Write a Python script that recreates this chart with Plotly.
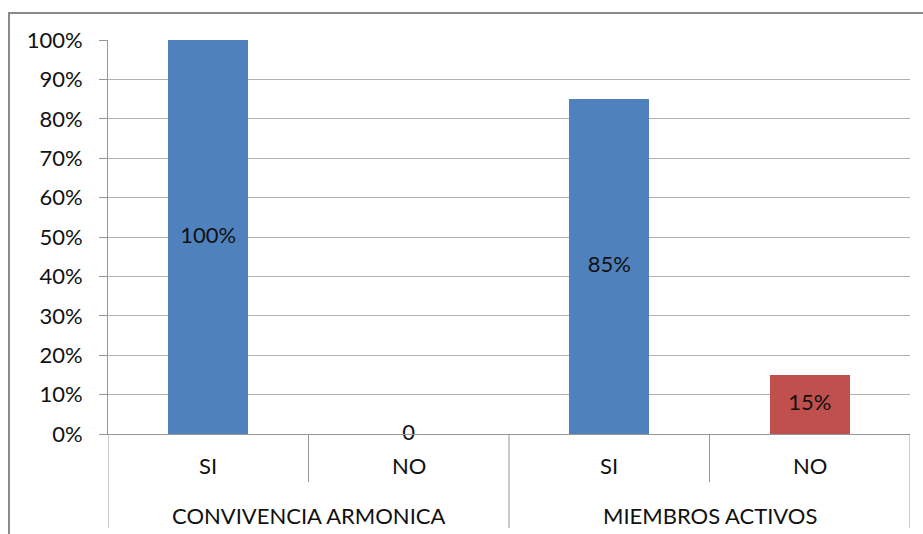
import plotly.graph_objects as go

groups = ["CONVIVENCIA ARMONICA", "MIEMBROS ACTIVOS"]
answers = ["SI", "NO", "SI", "NO"]
values = [1.00, 0.0, 0.85, 0.15]
labels = ["100%", "0", "85%", "15%"]
bar_colors = ["#4F81BD", "#4F81BD", "#4F81BD", "#C0504D"]

W, H = 923, 534
L, R, T, B = 108, 13, 40, 100
ph = H - T - B
FONT = "Lato"
FS = 22
GRID = "#b0b0b0"
AX = "#969696"

xs = list(range(len(values)))

fig = go.Figure()
fig.add_trace(go.Bar(x=xs, y=values, width=0.4, marker=dict(color=bar_colors, line=dict(width=0)),
                     showlegend=False, hoverinfo="skip"))
fig.add_trace(go.Scatter(x=xs, y=[v / 2 for v in values], text=labels, mode="text",
                         textfont=dict(family=FONT, size=FS, color="#111"), showlegend=False,
                         cliponaxis=False, hoverinfo="skip"))

def py(px_below):
    return -px_below / ph

shapes = []
for i, xv in enumerate([-0.5, 0.5, 1.5, 2.5, 3.5]):
    depth = 94 if i % 2 == 0 else 48
    shapes.append(dict(type="line", xref="x", yref="paper", x0=xv, x1=xv, y0=0, y1=py(depth),
                       line=dict(color=AX, width=1)))
shapes.append(dict(type="rect", xref="paper", yref="paper",
                   x0=(9 - L) / (W - L - R), x1=1.2, y0=-0.6, y1=(H - B - 13) / ph,
                   line=dict(color="#8a8a8a", width=2), fillcolor="rgba(0,0,0,0)", layer="below"))

annotations = []
for x, a in zip(xs, answers):
    annotations.append(dict(x=x, y=py(31), xref="x", yref="paper", text=a, showarrow=False,
                            font=dict(family=FONT, size=FS, color="#111"), yanchor="middle"))
for gi, g in enumerate(groups):
    annotations.append(dict(x=gi * 2 + 0.5, y=py(81), xref="x", yref="paper", text=g, showarrow=False,
                            font=dict(family=FONT, size=FS, color="#111"), yanchor="middle"))

fig.update_layout(
    width=W, height=H, margin=dict(l=L, r=R, t=T, b=B),
    paper_bgcolor="white", plot_bgcolor="white",
    xaxis=dict(range=[-0.5, 3.5], showticklabels=False, showgrid=False, zeroline=False,
               showline=True, linecolor=AX, linewidth=1, ticks=""),
    yaxis=dict(range=[0, 1], dtick=0.1, tickformat=".0%", showgrid=True, gridcolor=GRID, gridwidth=1,
               zeroline=False, showline=True, linecolor=AX, linewidth=1, ticks="outside", ticklen=8,
               tickcolor=AX, tickfont=dict(family=FONT, size=FS, color="#111"), ticklabelstandoff=12),
    shapes=shapes, annotations=annotations, bargap=0,
)
fig.write_html("out.html")
